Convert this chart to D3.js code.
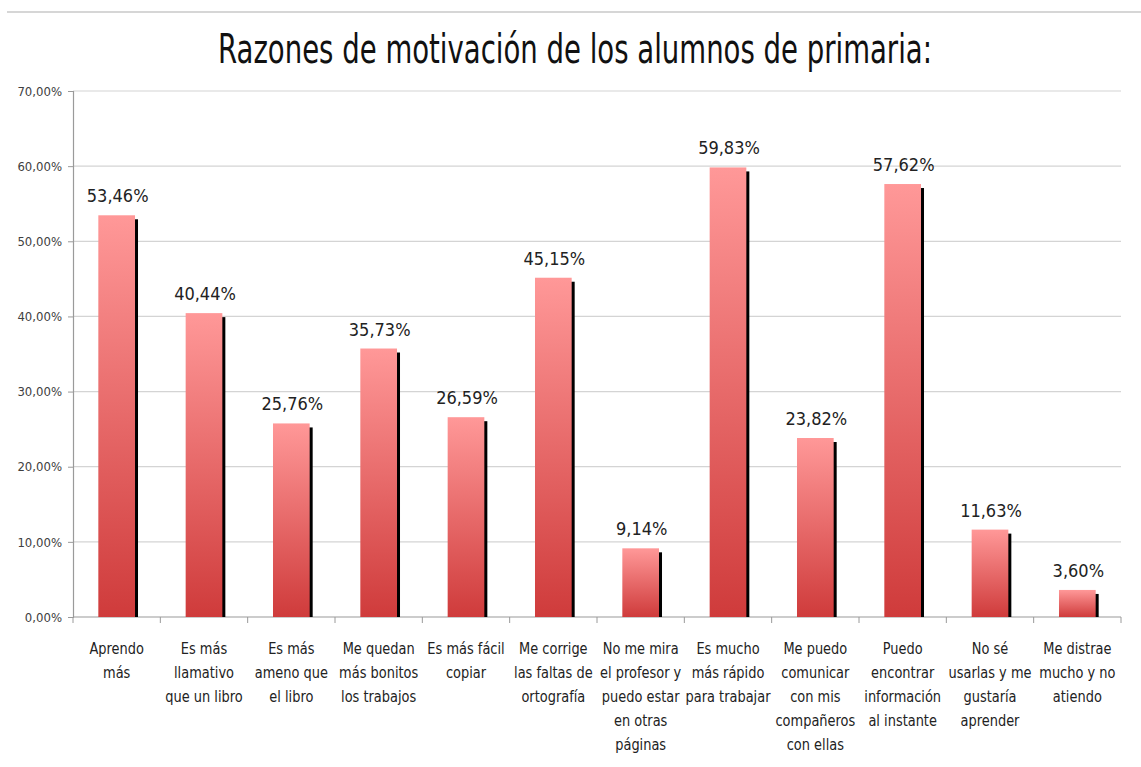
<!DOCTYPE html>
<html><head><meta charset="utf-8">
<script src="https://cdn.jsdelivr.net/npm/d3@7"></script>
<style>body{margin:0;background:#fff}</style>
</head><body>
<svg id="c" width="1141" height="767"></svg>
<script>
const title = "Razones de motivación de los alumnos de primaria:";
const categories = [
  ["Aprendo","más"],
  ["Es más","llamativo","que un libro"],
  ["Es más","ameno que","el libro"],
  ["Me quedan","más bonitos","los trabajos"],
  ["Es más fácil","copiar"],
  ["Me corrige","las faltas de","ortografía"],
  ["No me mira","el profesor y","puedo estar","en otras","páginas"],
  ["Es mucho","más rápido","para trabajar"],
  ["Me puedo","comunicar","con mis","compañeros","con ellas"],
  ["Puedo","encontrar","información","al instante"],
  ["No sé","usarlas y me","gustaría","aprender"],
  ["Me distrae","mucho y no","atiendo"]
];
const values = [53.46, 40.44, 25.76, 35.73, 26.59, 45.15, 9.14, 59.83, 23.82, 57.62, 11.63, 3.60];
const yTicks = [0,10,20,30,40,50,60,70];

const svg = d3.select("#c");
const L = 73, R = 1121, T = 91, B = 617;
const fmt = v => v.toFixed(2).replace(".", ",") + "%";
const FONT = "'DejaVu Sans Condensed','DejaVu Sans',sans-serif";

svg.append("line").attr("x1",7).attr("x2",1141).attr("y1",12).attr("y2",12)
  .attr("stroke","#c8c8c8").attr("stroke-width",1.5);

svg.append("g").attr("transform","translate(575,63) scale(1,1.3)")
  .append("text").attr("x",0).attr("y",0).attr("text-anchor","middle")
  .attr("font-family","'DejaVu Sans', sans-serif").attr("font-size",31)
  .attr("fill","#111").attr("textLength",714).attr("lengthAdjust","spacingAndGlyphs")
  .text(title);

const x = d3.scaleBand().domain(d3.range(categories.length)).range([L,R]).paddingInner(0.58).paddingOuter(0.29);
const y = d3.scaleLinear().domain([0,70]).range([B,T]);

const defs = svg.append("defs");
const g = defs.append("linearGradient").attr("id","bg").attr("x1",0).attr("y1",0).attr("x2",0).attr("y2",1);
g.append("stop").attr("offset","0%").attr("stop-color","#ff9898");
g.append("stop").attr("offset","100%").attr("stop-color","#cf3b3b");

// gridlines
svg.append("g").selectAll("line").data(yTicks.filter(d=>d>0)).join("line")
  .attr("x1",L).attr("x2",R).attr("y1",d=>y(d)).attr("y2",d=>y(d))
  .attr("stroke","#d4d4d4").attr("stroke-width",1.2);

// y axis
const ya = svg.append("g").attr("transform",`translate(${L},0)`)
  .call(d3.axisLeft(y).tickValues(yTicks).tickFormat(d=>fmt(d)).tickSize(5).tickPadding(6));
ya.select(".domain").attr("stroke","#9a9a9a").attr("stroke-width",1.2);
ya.selectAll(".tick line").attr("stroke","#9a9a9a");
ya.selectAll("text").attr("font-family",FONT).attr("font-size",13).attr("fill","#404040");

// x axis
const step = x.step();
const xb = svg.append("g");
xb.append("line").attr("x1",L).attr("x2",R).attr("y1",B).attr("y2",B).attr("stroke","#9a9a9a").attr("stroke-width",1.2);
xb.selectAll("line.t").data(d3.range(categories.length+1)).join("line").attr("class","t")
  .attr("x1",i=>L+i*step).attr("x2",i=>L+i*step).attr("y1",B).attr("y2",B+6).attr("stroke","#9a9a9a");

// bars
const bars = svg.append("g");
values.forEach((v,i)=>{
  const bx = x(i), bw = x.bandwidth(), by = y(v);
  bars.append("rect").attr("x",bx+3).attr("y",by+4).attr("width",bw).attr("height",B-by-4).attr("fill","#000");
  bars.append("rect").attr("x",bx).attr("y",by).attr("width",bw).attr("height",B-by).attr("fill","url(#bg)");
  bars.append("text").attr("x",bx+bw/2+1).attr("y",by-13).attr("text-anchor","middle")
    .attr("font-family",FONT).attr("font-size",18).attr("fill","#222").text(fmt(v));
});

// category labels
const cl = svg.append("g");
categories.forEach((lines,i)=>{
  const cx = x(i)+x.bandwidth()/2;
  const t = cl.append("g").attr("transform",`translate(${cx},0) scale(0.9,1)`)
    .append("text").attr("text-anchor","middle")
    .attr("font-family",FONT).attr("font-size",16).attr("fill","#222");
  lines.forEach((ln,j)=>{
    t.append("tspan").attr("x",0).attr("y",654+j*24).text(ln);
  });
});
</script>
</body></html>
